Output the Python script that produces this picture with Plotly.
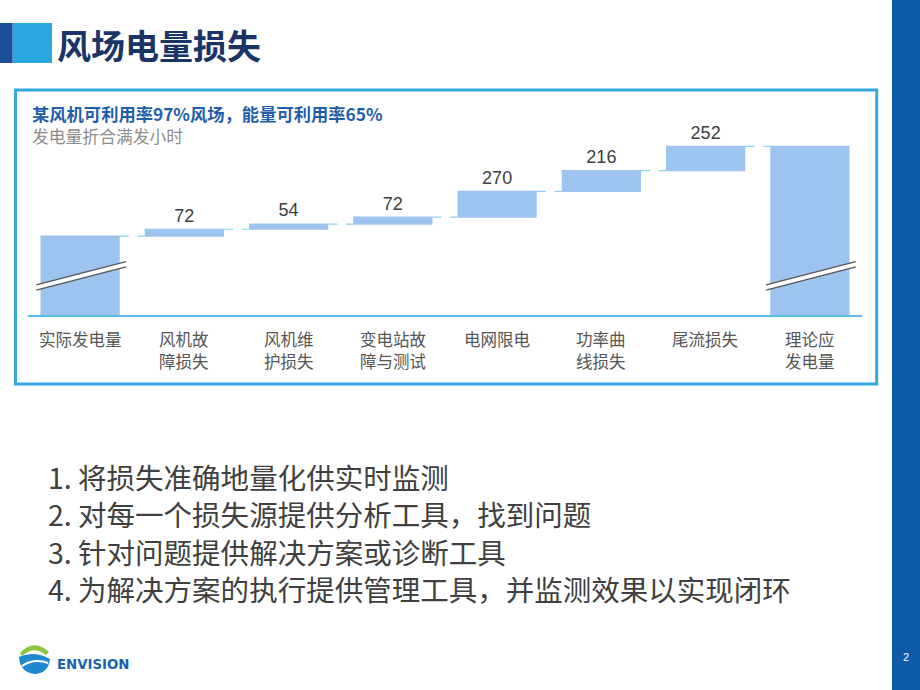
import plotly.graph_objects as go

W, H = 920, 690


def fx(px):
    return px / W


def fy(py):
    return 1 - py / H


# ---------------- data ----------------
categories = ["实际发电量", "风机故<br>障损失", "风机维<br>护损失", "变电站故<br>障与测试",
              "电网限电", "功率曲<br>线损失", "尾流损失", "理论应<br>发电量"]
actual_hours = 1738
losses = [72, 54, 72, 270, 216, 252]
measures = ["absolute"] + ["relative"] * len(losses) + ["total"]
values = [actual_hours] + losses + [0]
value_labels = [""] + [str(v) for v in losses] + [""]

title_text = "风场电量损失"
subtitle_bold = "某风机可利用率97%风场，能量可利用率65%"
subtitle_unit = "发电量折合满发小时"
bullets = [
    "1. 将损失准确地量化供实时监测",
    "2. 对每一个损失源提供分析工具，找到问题",
    "3. 针对问题提供解决方案或诊断工具",
    "4. 为解决方案的执行提供管理工具，并监测效果以实现闭环",
]
page_number = "2"
logo_text = "ENVISION"

# ---------------- style ----------------
CJK = "Noto Sans CJK SC"
BAR = "#9dc4ee"
CONNECT = "#8fd0ee"
BOX = "#33a9e0"

fig = go.Figure()
fig.add_trace(go.Waterfall(
    x=categories, y=values, measure=measures,
    text=value_labels, textposition="outside", cliponaxis=False,
    textfont=dict(family="Liberation Sans, Arial", size=18, color="#404040"),
    increasing=dict(marker=dict(color=BAR, line=dict(width=0))),
    decreasing=dict(marker=dict(color=BAR, line=dict(width=0))),
    totals=dict(marker=dict(color=BAR, line=dict(width=0))),
    connector=dict(mode="between", line=dict(color=CONNECT, width=1.2, dash="dash")),
    hoverinfo="skip", showlegend=False,
))

shapes = []
# right stripe
shapes.append(dict(type="rect", xref="paper", yref="paper", x0=fx(892), x1=1, y0=0, y1=1,
                   fillcolor="#0f5aa8", line=dict(width=0), layer="below"))
# title blocks
shapes.append(dict(type="rect", xref="paper", yref="paper", x0=0, x1=fx(12.7), y0=fy(63), y1=fy(23),
                   fillcolor="#1c4f98", line=dict(width=0)))
shapes.append(dict(type="rect", xref="paper", yref="paper", x0=fx(12.7), x1=fx(52), y0=fy(63), y1=fy(23),
                   fillcolor="#2aa7e1", line=dict(width=0)))
# chart frame
shapes.append(dict(type="rect", xref="paper", yref="paper", x0=fx(15.5), x1=fx(876.7), y0=fy(384), y1=fy(90),
                   line=dict(color=BOX, width=3), fillcolor="rgba(0,0,0,0)", layer="below"))

# axis-break marks on first and last bars
for i in [0, len(categories) - 1]:
    xl, xr = i - 0.42, i + 0.44
    yl, yr = 0.128, 0.236
    d = 0.012
    shapes.append(dict(type="line", xref="x", yref="y domain", x0=xl, x1=xr, y0=yl, y1=yr,
                       line=dict(color="white", width=5)))
    for s in (-d, d):
        shapes.append(dict(type="line", xref="x", yref="y domain", x0=xl, x1=xr, y0=yl + s, y1=yr + s,
                           line=dict(color="#555555", width=1.2)))


# logo icon
def pth(cmds):
    out = []
    for c in cmds:
        if isinstance(c, str):
            out.append(c)
        else:
            out.append(f"{fx(c[0]):.5f},{fy(c[1]):.5f}")
    return " ".join(out)


shapes.append(dict(type="path", xref="paper", yref="paper",
                   path=pth(["M", (20, 653), "Q", (34, 638), (49, 652), "L", (46, 655), "Q", (34, 645), (22, 656), "Z"]),
                   fillcolor="#8cc63f", line=dict(width=0)))
shapes.append(dict(type="path", xref="paper", yref="paper",
                   path=pth(["M", (19, 657), "Q", (34, 650), (50, 659), "Q", (48, 674), (34, 674),
                             "Q", (20, 672), (19, 657), "Z"]),
                   fillcolor="#1e88d0", line=dict(width=0)))
shapes.append(dict(type="path", xref="paper", yref="paper",
                   path=pth(["M", (22, 666), "Q", (34, 658), (48, 663)]),
                   line=dict(color="white", width=2)))

ann = []
ann.append(dict(x=fx(55), y=fy(44), xanchor="left", yanchor="middle", text=f"<b>{title_text}</b>",
                font=dict(family=CJK, size=34, color="#1b3466")))
ann.append(dict(x=fx(30), y=fy(114), xanchor="left", yanchor="middle", text=f"<b>{subtitle_bold}</b>",
                font=dict(family=CJK, size=17.3, color="#1f5ea8")))
ann.append(dict(x=fx(30), y=fy(136), xanchor="left", yanchor="middle", text=subtitle_unit,
                font=dict(family=CJK, size=16.8, color="#8c8c8c")))
for k, b in enumerate(bullets):
    ann.append(dict(x=fx(46), y=fy(476 + k * 37.6), xanchor="left", yanchor="middle", text=b,
                    font=dict(family=CJK, size=28.5, color="#404040")))
ann.append(dict(x=fx(906), y=fy(657), xanchor="center", yanchor="middle", text=page_number,
                font=dict(family="Liberation Sans, Arial", size=11, color="white")))
ann.append(dict(x=fx(55), y=fy(664.5), xanchor="left", yanchor="middle", text=f"<b>{logo_text}</b>",
                font=dict(family="DejaVu Sans", size=13.3, color="#1b63ae")))
for a in ann:
    a.update(xref="paper", yref="paper", showarrow=False)

# category labels: one text per line, placed on the category axis
for cat in categories:
    for j, line in enumerate(cat.split("<br>")):
        ann.append(dict(x=cat, xref="x", y=fy(338.5 + j * 22.7), yref="paper",
                        xanchor="center", yanchor="middle", text=line, showarrow=False,
                        font=dict(family=CJK, size=16.5, color="#555555")))

fig.update_layout(
    width=W, height=H, margin=dict(l=0, r=0, t=0, b=0),
    paper_bgcolor="white", plot_bgcolor="rgba(0,0,0,0)",
    waterfallgap=0.24,
    shapes=shapes, annotations=ann,
    xaxis=dict(domain=[fx(28), fx(862)], range=[-0.5, len(categories) - 0.5],
               showline=True, linecolor="#5bbde6", linewidth=1.5, showgrid=False, zeroline=False,
               ticks="", showticklabels=False, fixedrange=True),
    yaxis=dict(domain=[fy(315), fy(100)], range=[915, 3159], visible=False, fixedrange=True),
)

fig.write_html("out.html")
